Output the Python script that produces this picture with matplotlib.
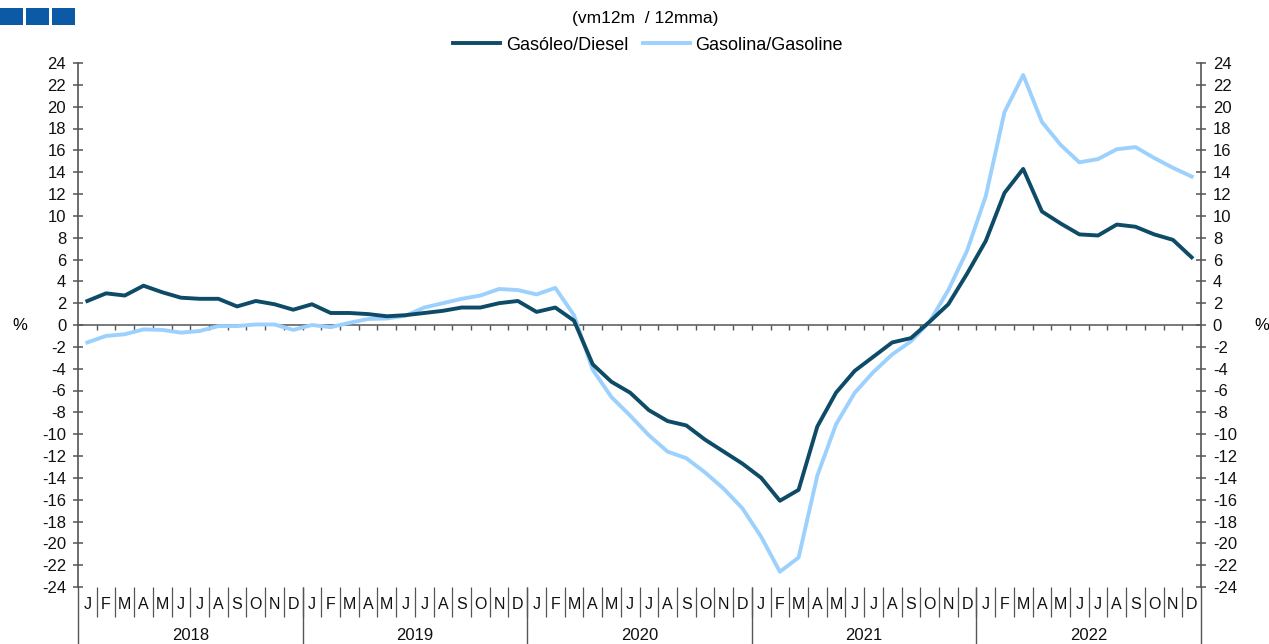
import numpy as np
import matplotlib.pyplot as plt
from matplotlib.patches import Rectangle
from matplotlib.transforms import blended_transform_factory

plt.rcParams['font.family'] = ['Liberation Sans', 'DejaVu Sans']

years = ['2018', '2019', '2020', '2021', '2022']
months = ['J', 'F', 'M', 'A', 'M', 'J', 'J', 'A', 'S', 'O', 'N', 'D']

diesel = [2.2, 2.9, 2.7, 3.6, 3.0, 2.5, 2.4, 2.4, 1.7, 2.2, 1.9, 1.4,
          1.9, 1.1, 1.1, 1.0, 0.8, 0.9, 1.1, 1.3, 1.6, 1.6, 2.0, 2.2,
          1.2, 1.6, 0.4, -3.6, -5.2, -6.2, -7.8, -8.8, -9.2, -10.5, -11.6, -12.7,
          -14.0, -16.1, -15.1, -9.3, -6.2, -4.2, -2.9, -1.6, -1.2, 0.3, 1.9, 4.7,
          7.7, 12.1, 14.3, 10.4, 9.3, 8.3, 8.2, 9.2, 9.0, 8.3, 7.8, 6.2]
gasoline = [-1.6, -1.0, -0.85, -0.4, -0.45, -0.7, -0.55, -0.1, -0.1, 0.05, 0.05, -0.45,
            0.0, -0.2, 0.2, 0.55, 0.6, 0.85, 1.6, 2.0, 2.4, 2.7, 3.3, 3.2,
            2.8, 3.4, 0.9, -4.1, -6.6, -8.3, -10.1, -11.6, -12.2, -13.5, -15.0, -16.8,
            -19.4, -22.6, -21.3, -13.8, -9.1, -6.2, -4.3, -2.7, -1.5, 0.3, 3.2, 6.8,
            11.8, 19.5, 22.9, 18.6, 16.5, 14.9, 15.2, 16.1, 16.3, 15.3, 14.4, 13.6]

dark = '#0d4b67'
light = '#9dd1fd'
axis_col = '#555555'

fig = plt.figure(figsize=(12.69, 6.44), dpi=100)
ax = fig.add_axes([78/1269, 1 - 587/644, (1201 - 78)/1269, 524/644])

n = len(diesel)
x = np.arange(n) + 0.5
ax.plot(x, gasoline, color=light, lw=2.8, solid_joinstyle='round', label='Gasolina/Gasoline', zorder=3)
ax.plot(x, diesel, color=dark, lw=2.8, solid_joinstyle='round', label='Gasóleo/Diesel', zorder=4)

ax.set_xlim(0, n)
ax.set_ylim(-24, 24)
yt = np.arange(-24, 25, 2)
ax.set_yticks(yt)
ax.set_yticklabels([str(v) for v in yt])
ax.set_xticks([])
for s in ['top', 'bottom']:
    ax.spines[s].set_visible(False)
for s in ['left', 'right']:
    ax.spines[s].set_color(axis_col)
    ax.spines[s].set_linewidth(1.2)
ax.tick_params(axis='y', direction='inout', length=7, width=1.1, color=axis_col,
               labelsize=12, pad=5, right=True, labelright=True, labelcolor='#111111')

# zero line with small month ticks
ax.axhline(0, color=axis_col, lw=1.1, zorder=2)
ax.vlines(np.arange(1, n), -0.45, 0, color=axis_col, lw=1.0, zorder=2)

# month / year labels below
tr = blended_transform_factory(ax.transData, ax.transAxes)
for i in range(n):
    ax.text(i + 0.5, -0.034, months[i % 12], transform=tr, ha='center', va='center',
            fontsize=11.5, color='#111111')
ax.vlines(np.arange(1, n), -0.058, 0, transform=tr, color=axis_col, lw=0.9, clip_on=False)
ax.vlines(np.arange(0, n + 1, 12), -0.115, 0, transform=tr, color=axis_col, lw=1.0, clip_on=False)
for k, yr in enumerate(years):
    ax.text(12 * k + 6, -0.092, yr, transform=tr, ha='center', va='center',
            fontsize=12, color='#111111')

fig.text(20/1269, 1 - 326/644, '%', ha='center', va='center', fontsize=12)
fig.text(1262/1269, 1 - 326/644, '%', ha='center', va='center', fontsize=12)

fig.text(645/1269, 1 - 19/644, '(vm12m  / 12mma)', ha='center', va='center', fontsize=12.5)
h, l = ax.get_legend_handles_labels()
fig.legend(h[::-1], l[::-1], loc='center', bbox_to_anchor=(648/1269, 1 - 45/644), ncol=2,
           frameon=False, fontsize=13, handlelength=2.6, columnspacing=0.8, handletextpad=0.3)

for k in range(3):
    fig.add_artist(Rectangle((k * 26 / 1269, 1 - 25/644), 23/1269, 17/644,
                             transform=fig.transFigure, facecolor='#0c5aa6',
                             edgecolor='none', antialiased=False))

fig.savefig('out.png', dpi=100)
